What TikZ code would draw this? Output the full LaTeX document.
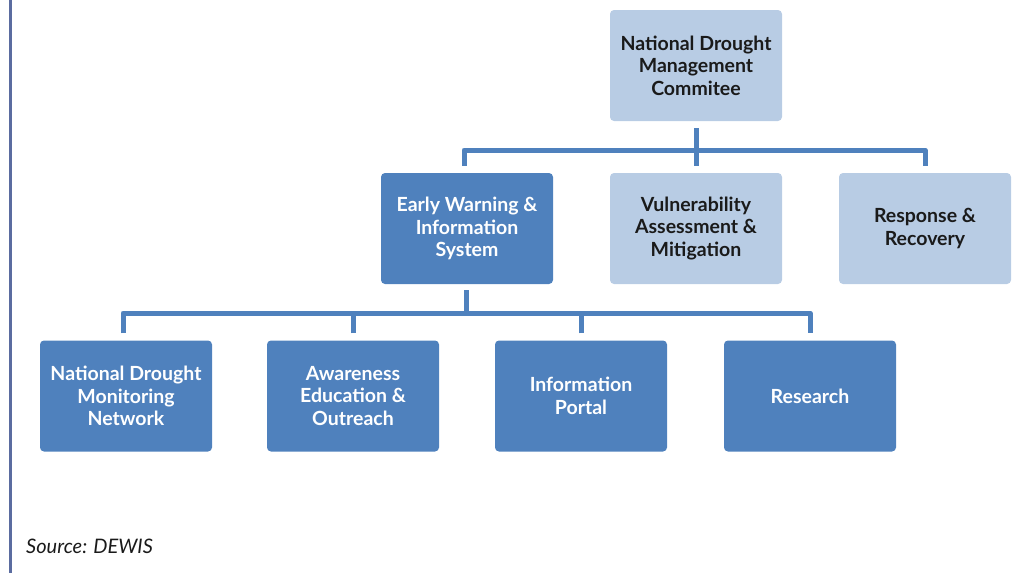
\documentclass[tikz,border=0pt]{standalone}
\usepackage{fontspec}
\setmainfont{Lato}
\usetikzlibrary{calc,positioning}
\definecolor{darkbox}{HTML}{4F81BD}
\definecolor{lightbox}{HTML}{B8CCE4}
\definecolor{frameline}{HTML}{5B6CA0}
\definecolor{boxtext}{HTML}{1A1A1A}

\begin{document}
\begin{tikzpicture}[x=1pt,y=-1pt,line join=round]
\tikzstyle{box}=[rounded corners=4pt,minimum width=172pt,minimum height=111pt,inner sep=0pt,align=center,font=\bfseries\fontsize{19.5}{22.5}\selectfont]
\tikzstyle{dark}=[box,fill=darkbox,text=white]
\tikzstyle{light}=[box,fill=lightbox,text=boxtext]
\tikzstyle{link}=[draw=darkbox,line width=5pt]
\useasboundingbox (0,0) rectangle (1027,573);
\draw[frameline,line width=3pt] (10,0) -- (10,573);
% committee and its three branches
\node[light] (NDMC) at (696,65.5) {National Drought\\Management\\Commitee};
\node[dark]  (EWS)  at (467,228.5) {Early Warning \&\\Information\\System};
\node[light] (VAM)  at (696,228.5) {Vulnerability\\Assessment \&\\Mitigation};
\node[light] (RR)   at (925,228.5) {Response \&\\Recovery};
% early warning units
\node[dark] (NDMN) at (126,396) {National Drought\\Monitoring\\Network};
\node[dark] (AEO)  at (353,396) {Awareness\\Education \&\\Outreach};
\node[dark] (IP)   at (581,396) {Information\\Portal};
\node[dark] (RES)  at (810,396) {Research};
\coordinate (B1) at (696,150);
\coordinate (B2) at (466,313);
\begin{scope}[style=link]
    \draw ($(EWS.north)+(-3,-7)$) |- (B1) -| ($(RR.north)+(0,-7)$);
    \draw ($(NDMC.south)+(0,7)$) -- ($(VAM.north)+(0,-7)$);
    \draw ($(NDMN.north)+(-3,-7)$) |- (B2) -| ($(RES.north)+(0,-7)$);
    \draw ($(EWS.south)+(-1,6)$) -- (B2);
\end{scope}
\foreach \n in {AEO,IP}
	\draw[link] ($(\n.north)+(0,-7)$) -- (\n.north |- B2);
\node[anchor=base west,inner sep=0pt,text=boxtext,font=\itshape\fontsize{20}{24}\selectfont] (src) at (26,553) {Source: DEWIS};
\end{tikzpicture}
\end{document}
